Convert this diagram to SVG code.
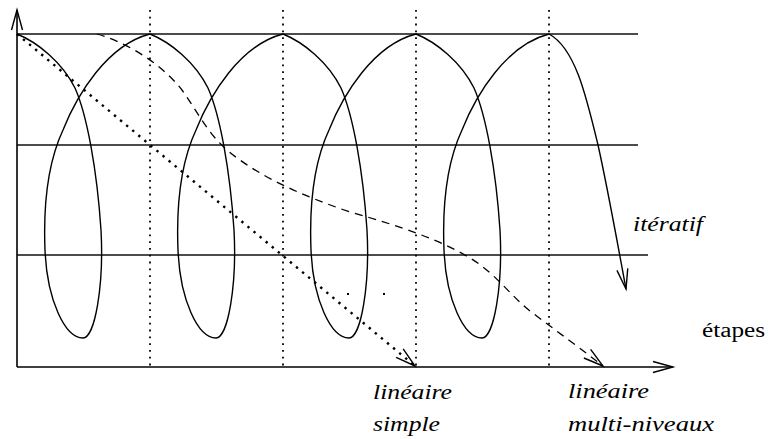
<svg xmlns="http://www.w3.org/2000/svg" width="768" height="439" viewBox="0 0 768 439">
<style>
.ax{stroke:#000;stroke-width:1.6;fill:none}
.grid{stroke:#111;stroke-width:1.6;fill:none}
.vdot{stroke:#000;stroke-width:1.8;fill:none;stroke-dasharray:1.8 5}
.loop{stroke:#000;stroke-width:1.4;fill:none}
.dotl{stroke:#000;stroke-width:2.4;fill:none;stroke-dasharray:2.4 5.5}
.dash{stroke:#000;stroke-width:1.3;fill:none;stroke-dasharray:8 6}
.lbl{font-family:"Liberation Serif","DejaVu Serif",serif;font-style:italic;font-size:20px;fill:#000}
.lbl2{font-family:"Liberation Serif","DejaVu Serif",serif;font-size:20px;fill:#000}
</style>
<defs>
<marker id="arr" markerUnits="userSpaceOnUse" markerWidth="24" markerHeight="14" refX="20" refY="6" orient="auto" overflow="visible">
<path d="M0,0.5 L20,6 L0,11.5" fill="none" stroke="#000" stroke-width="1.4" stroke-dasharray="none"/>
</marker>
<path id="lp" d="M0,34 C20,42 45,62 58,88 C70,115 80,170 84,230 C87,285 78,338 66,338 C48,338 30,300 28,250 C26,200 32,160 46,130 C60,95 90,45 133,34"/>
</defs>
<g id="grid">
<line class="grid" x1="17" y1="34" x2="638" y2="34"/>
<line class="grid" x1="17" y1="145" x2="638" y2="145"/>
<line class="grid" x1="17" y1="255" x2="648" y2="255"/>
<line class="vdot" x1="150" y1="10" x2="150" y2="366"/>
<line class="vdot" x1="283" y1="10" x2="283" y2="366"/>
<line class="vdot" x1="416" y1="10" x2="416" y2="366"/>
<line class="vdot" x1="549" y1="10" x2="549" y2="366"/>
</g>
<g id="axes">
<line class="ax" x1="17" y1="367" x2="17" y2="10" marker-end="url(#arr)"/>
<line class="ax" x1="17" y1="367" x2="673" y2="367" marker-end="url(#arr)"/>
</g>
<g id="connectors">
<g id="iteratif-path">
<use href="#lp" class="loop" x="17"/>
<use href="#lp" class="loop" x="150"/>
<use href="#lp" class="loop" x="283"/>
<use href="#lp" class="loop" x="416"/>
<path class="loop" d="M549,34 C575,48 586,95 598,145 C607,185 616,235 626,289" marker-end="url(#arr)"/>
</g>
<line id="lineaire-simple-path" class="dotl" x1="17" y1="34" x2="415" y2="366" marker-end="url(#arr)"/>
<path id="lineaire-multi-path" class="dash" d="M97,34 C125,42 160,62 182,90 C200,115 210,140 240,160 C265,178 300,195 350,212 C400,226 440,240 470,258 C495,273 510,295 530,311 C555,330 580,348 603,366" marker-end="url(#arr)"/>
<rect x="347" y="293" width="2" height="2" fill="#000"/>
<rect x="383" y="293" width="2" height="2" fill="#000"/>
</g>
<g id="label-iteratif"><text class="lbl" x="633" y="231" textLength="70" lengthAdjust="spacingAndGlyphs">itératif</text></g>
<g id="label-etapes"><text class="lbl2" x="702" y="337" textLength="63" lengthAdjust="spacingAndGlyphs">étapes</text></g>
<g id="label-simple">
<text class="lbl" x="373" y="399" textLength="79" lengthAdjust="spacingAndGlyphs">linéaire</text>
<text class="lbl" x="373" y="431" textLength="67" lengthAdjust="spacingAndGlyphs">simple</text>
</g>
<g id="label-multi">
<text class="lbl" x="568" y="398" textLength="81" lengthAdjust="spacingAndGlyphs">linéaire</text>
<text class="lbl" x="568" y="431" textLength="146" lengthAdjust="spacingAndGlyphs">multi-niveaux</text>
</g>
</svg>
